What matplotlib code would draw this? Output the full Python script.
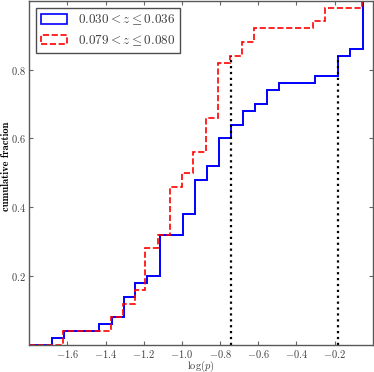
import matplotlib
matplotlib.use('Agg')
import matplotlib.pyplot as plt
import matplotlib.patches as mpatches
import numpy as np

plt.rcParams['font.family'] = 'serif'
plt.rcParams['font.serif'] = ['cmr10']
plt.rcParams['mathtext.fontset'] = 'cm'
plt.rcParams['axes.formatter.use_mathtext'] = True

# step positions (log p) and cumulative fraction after each step
blue_x = [-1.800, -1.680, -1.618, -1.432, -1.368, -1.305, -1.244, -1.182, -1.117,
          -0.995, -0.930, -0.868, -0.804, -0.742, -0.681, -0.617, -0.554, -0.491,
          -0.305, -0.183, -0.119, -0.054, 0.0]
blue_y = [0.00, 0.02, 0.04, 0.06, 0.08, 0.14, 0.18, 0.20, 0.32,
          0.38, 0.48, 0.52, 0.60, 0.64, 0.68, 0.70, 0.74, 0.76,
          0.78, 0.84, 0.86, 1.00]

red_x = [-1.800, -1.625, -1.374, -1.307, -1.247, -1.191, -1.126, -1.062, -1.000,
         -0.940, -0.875, -0.809, -0.746, -0.686, -0.623, -0.314, -0.249, -0.056, 0.0]
red_y = [0.00, 0.04, 0.08, 0.12, 0.16, 0.28, 0.32, 0.46, 0.50,
         0.56, 0.66, 0.82, 0.84, 0.88, 0.92, 0.94, 0.98, 1.00]

# dotted markers
vx = [-0.744, -0.184]
vtop = [0.84, 0.84]

lab_blue = r'$0.030 < z \leq 0.036$'
lab_red = r'$0.079 < z \leq 0.080$'

fig = plt.figure(figsize=(3.74, 3.72), dpi=100)
ax = fig.add_axes([0.078, 0.073, 0.919, 0.925])

ax.stairs(blue_y, blue_x, baseline=None, color='b', lw=1.4)
ax.stairs(red_y, red_x, baseline=None, color='r', lw=1.2, ls='--')
for x, t in zip(vx, vtop):
    ax.plot([x, x], [0, t], 'k:', lw=1.6)

ax.set_xlim(-1.8, 0.0)
ax.set_ylim(0, 1.0)
ax.set_xticks([-1.6, -1.4, -1.2, -1.0, -0.8, -0.6, -0.4, -0.2])
ax.set_yticks([0.2, 0.4, 0.6, 0.8])
ax.tick_params(direction='in', top=True, right=True, length=3, labelsize=7.5,
               pad=2.5, color='0.4', labelcolor='0.25')
for s in ax.spines.values():
    s.set_color('0.35')
    s.set_linewidth(1.0)

ax.set_xlabel(r'$\log(p)$', fontsize=7.5, color='0.25')
ax.xaxis.set_label_coords(0.5, -0.039)
ax.set_ylabel('cumulative fraction', fontname='cmb10', fontsize=7.5)
ax.yaxis.set_label_coords(-0.054, 0.52)

handles = [mpatches.Patch(facecolor='none', edgecolor='b', lw=1.2),
           mpatches.Patch(facecolor='none', edgecolor='r', lw=1.2, ls='--')]
leg = ax.legend(handles, [lab_blue, lab_red], loc='upper left', fontsize=9.5,
                fancybox=False, edgecolor='0.3', framealpha=1,
                borderaxespad=0.55, borderpad=0.35, labelspacing=0.45)
for t in leg.get_texts():
    t.set_color('0.25')

fig.savefig('out.png', dpi=100)
